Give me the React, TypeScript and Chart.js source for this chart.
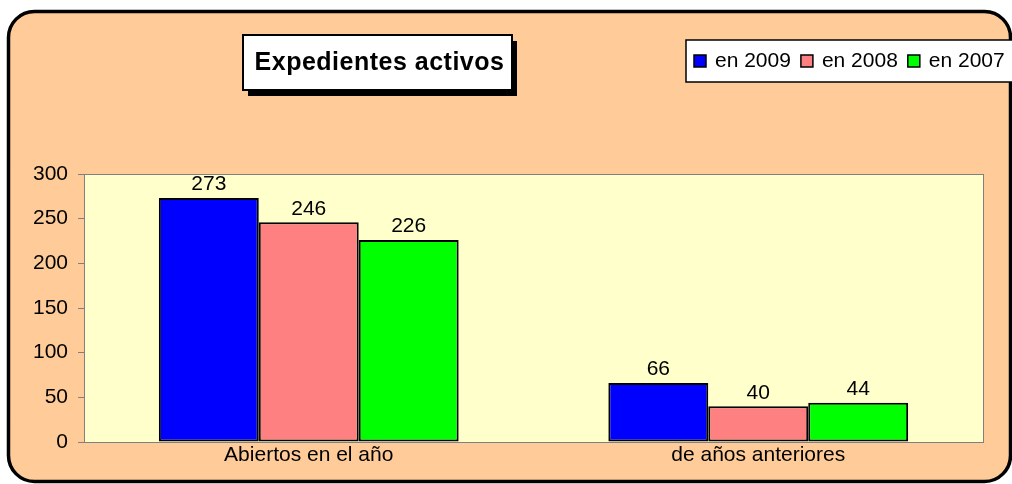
import React, { useEffect, useRef } from 'react';
import { Chart, registerables } from 'chart.js';

Chart.register(...registerables);

const categories = ['Abiertos en el año', 'de años anteriores'];
const seriesLabels = ['en 2009', 'en 2008', 'en 2007'];
const values2009 = [273, 66];
const values2008 = [246, 40];
const values2007 = [226, 44];
const seriesColors = ['#0000FF', '#FF8080', '#00FF00'];
const chartTitle = 'Expedientes activos';
const yMin = 0;
const yMax = 300;
const yStep = 50;

const FONT = '"Liberation Sans", Arial, sans-serif';

const decorPlugin = {
  id: 'decor',
  beforeDraw(chart: any) {
    const { ctx, chartArea } = chart;
    ctx.save();
    ctx.fillStyle = '#FFFFFF';
    ctx.fillRect(0, 0, chart.width, chart.height);
    // outer rounded frame
    ctx.beginPath();
    ctx.roundRect(8.5, 11.5, 1002, 470, 26);
    ctx.fillStyle = '#FFCC99';
    ctx.fill();
    ctx.lineWidth = 3.5;
    ctx.strokeStyle = '#000000';
    ctx.stroke();
    // plot area
    ctx.fillStyle = '#FFFFCC';
    ctx.fillRect(chartArea.left, chartArea.top, chartArea.right - chartArea.left, chartArea.bottom - chartArea.top);
    ctx.lineWidth = 1;
    ctx.strokeStyle = '#808080';
    ctx.strokeRect(chartArea.left + 0.5, chartArea.top + 0.5, chartArea.right - chartArea.left, chartArea.bottom - chartArea.top);
    ctx.restore();
  },
  afterDraw(chart: any) {
    const { ctx } = chart;
    ctx.save();
    // title box with shadow
    const tx = 243, ty = 35, tw = 269, th = 55;
    ctx.fillStyle = '#000000';
    ctx.fillRect(tx + 5, ty + 6, tw, th);
    ctx.fillStyle = '#FFFFFF';
    ctx.fillRect(tx, ty, tw, th);
    ctx.lineWidth = 2;
    ctx.strokeStyle = '#000000';
    ctx.strokeRect(tx, ty, tw, th);
    ctx.font = `bold 25px ${FONT}`;
    (ctx as any).letterSpacing = '0.5px';
    ctx.textAlign = 'center';
    ctx.textBaseline = 'middle';
    ctx.fillStyle = '#000000';
    ctx.fillText(chartTitle, tx + tw / 2 + 2, ty + th / 2 + 1);
    (ctx as any).letterSpacing = '0px';

    // legend box
    const lx = 686, ly = 40, lw = 340, lh = 42;
    ctx.fillStyle = '#FFFFFF';
    ctx.fillRect(lx, ly, lw, lh);
    ctx.lineWidth = 1.5;
    ctx.strokeStyle = '#000000';
    ctx.strokeRect(lx, ly, lw, lh);
    ctx.font = `21px ${FONT}`;
    ctx.textAlign = 'left';
    ctx.textBaseline = 'middle';
    let x = 694;
    const cy = ly + lh / 2;
    chart.data.datasets.forEach((ds: any) => {
      ctx.fillStyle = ds.backgroundColor;
      ctx.fillRect(x, cy - 6, 12, 12);
      ctx.lineWidth = 1.5;
      ctx.strokeStyle = '#000000';
      ctx.strokeRect(x, cy - 6, 12, 12);
      ctx.fillStyle = '#000000';
      ctx.fillText(ds.label, x + 21, cy);
      x += 21 + ctx.measureText(ds.label).width + 10;
    });
    ctx.restore();
  },
  afterDatasetsDraw(chart: any) {
    const { ctx } = chart;
    ctx.save();
    ctx.font = `21px ${FONT}`;
    ctx.fillStyle = '#000000';
    ctx.textAlign = 'center';
    ctx.textBaseline = 'bottom';
    chart.data.datasets.forEach((ds: any, i: number) => {
      const meta = chart.getDatasetMeta(i);
      meta.data.forEach((bar: any, j: number) => {
        ctx.fillText(String(ds.data[j]), bar.x, bar.y - 3);
      });
    });
    ctx.restore();
  },
};

export default function App() {
  const canvasRef = useRef<HTMLCanvasElement | null>(null);

  useEffect(() => {
    const canvas = canvasRef.current;
    if (!canvas) return;
    const seriesValues = [values2009, values2008, values2007];
    const chart = new Chart(canvas, {
      type: 'bar',
      data: {
        labels: categories,
        datasets: seriesLabels.map((label, i) => ({
          label,
          data: seriesValues[i],
          backgroundColor: seriesColors[i],
          borderColor: '#000000',
          borderWidth: 2,
          borderSkipped: false,
          categoryPercentage: 0.667,
          barPercentage: 1.0,
        })),
      },
      options: {
        responsive: false,
        animation: false,
        devicePixelRatio: 1,
        layout: { padding: { left: 0, top: 174, right: 29, bottom: 0 } },
        plugins: {
          legend: { display: false },
          title: { display: false },
          tooltip: { enabled: false },
        },
        scales: {
          x: {
            grid: { display: false, drawTicks: false, tickLength: 0 },
            border: { display: false },
            ticks: {
              color: '#000000',
              font: { family: FONT, size: 21 },
              padding: 1,
              maxRotation: 0,
            },
            afterFit(scale: any) {
              scale.height = 42;
            },
          },
          y: {
            min: yMin,
            max: yMax,
            grid: {
              drawOnChartArea: false,
              drawTicks: true,
              tickLength: 6,
              color: '#808080',
            },
            border: { display: true, color: '#808080' },
            ticks: {
              stepSize: yStep,
              color: '#000000',
              font: { family: FONT, size: 21 },
              padding: 10,
            },
            afterFit(scale: any) {
              scale.width = 84;
            },
          },
        },
      },
      plugins: [decorPlugin],
    });
    return () => chart.destroy();
  }, []);

  return (
    <div style={{ position: 'absolute', left: 0, top: 0, width: 1012, height: 484 }}>
      <canvas ref={canvasRef} width={1012} height={484} style={{ display: 'block' }} />
    </div>
  );
}
